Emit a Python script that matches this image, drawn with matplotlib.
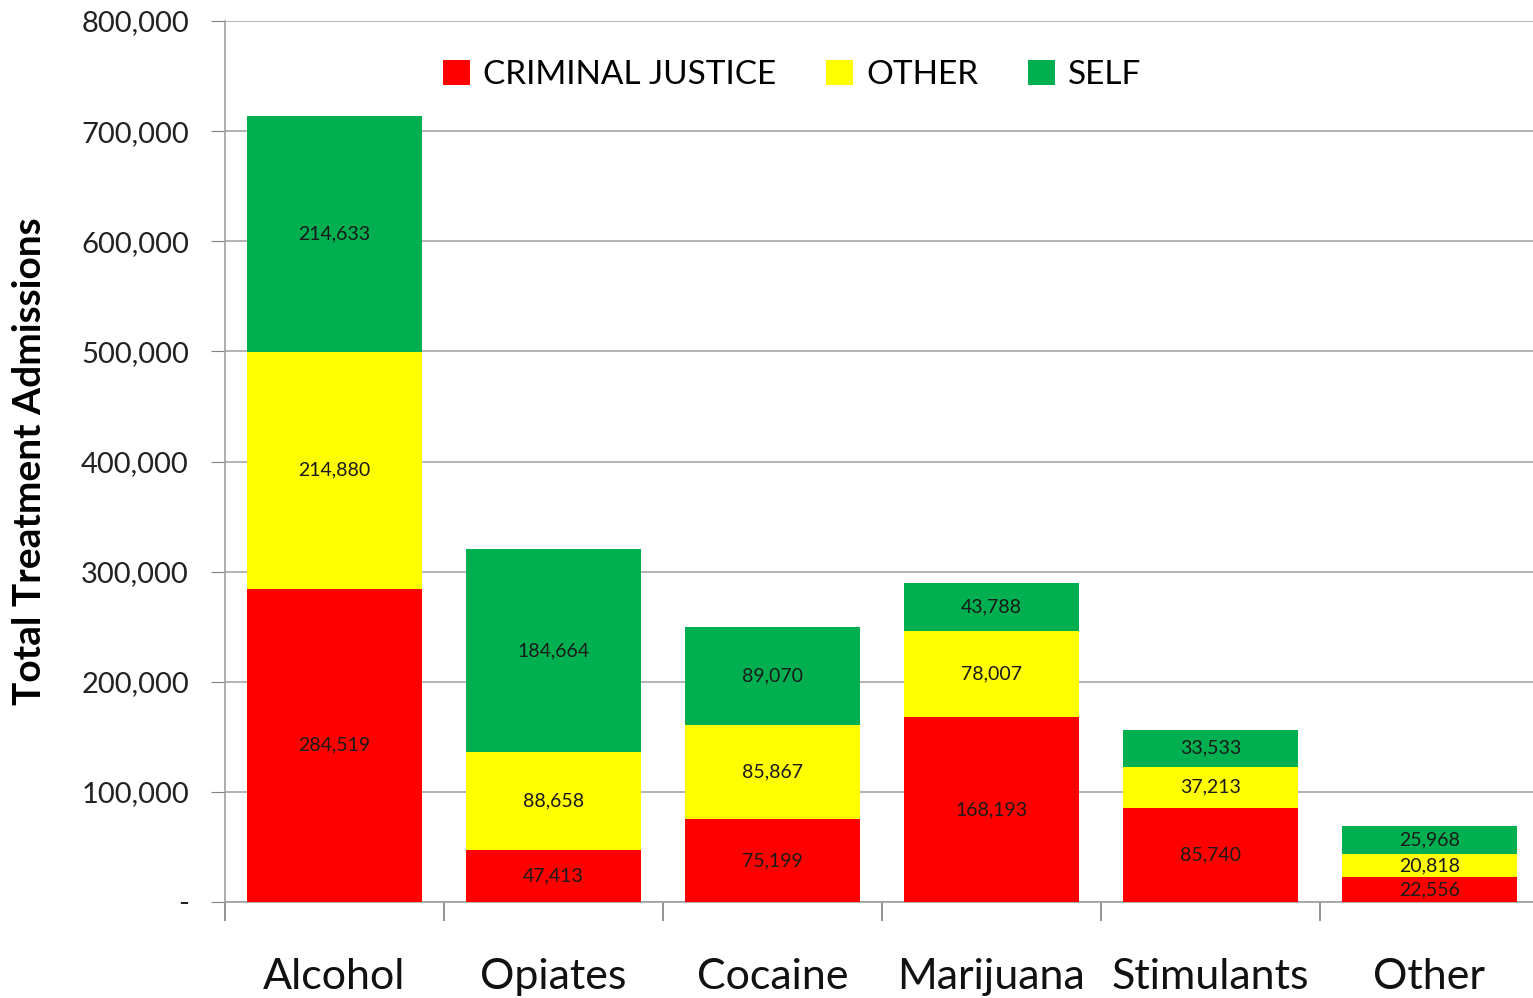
import matplotlib
matplotlib.use("Agg")
import matplotlib.pyplot as plt
import numpy as np
from matplotlib.ticker import FuncFormatter, FixedLocator

categories = ["Alcohol", "Opiates", "Cocaine", "Marijuana", "Stimulants", "Other"]
series_names = ["CRIMINAL JUSTICE", "OTHER", "SELF"]
criminal_justice = [284519, 47413, 75199, 168193, 85740, 22556]
other = [214880, 88658, 85867, 78007, 37213, 20818]
self_ref = [214633, 184664, 89070, 43788, 33533, 25968]
colors = ["#FF0000", "#FFFF00", "#00B050"]
y_ticks = [0, 100000, 200000, 300000, 400000, 500000, 600000, 700000, 800000]

plt.rcParams['font.family'] = ['Lato', 'DejaVu Sans']

fig = plt.figure(figsize=(15.33, 9.98), dpi=100)
ax = fig.add_axes([225/1533, 1-902/998, 1314/1533, 881/998])

x = np.arange(len(categories))
bottom = np.zeros(len(categories))
handles = []
for name, vals, c in zip(series_names, [criminal_justice, other, self_ref], colors):
    vals = np.array(vals, dtype=float)
    b = ax.bar(x, vals, width=0.80, bottom=bottom, color=c, label=name, zorder=3)
    handles.append(b)
    for xi, v, bt in zip(x, vals, bottom):
        ax.text(xi, bt + v/2, f"{int(v):,}", ha='center', va='center',
                fontsize=14, color='#1a1a1a', zorder=4)
    bottom += vals

ax.set_xlim(-0.5, 5.5)
ax.set_ylim(0, 800000)
ax.set_yticks(y_ticks)
ax.yaxis.set_major_formatter(FuncFormatter(lambda v, p: "-" if v == 0 else f"{int(v):,}"))
ax.tick_params(axis='y', labelsize=21, length=10, color='#808080', pad=16, labelcolor='#222222')
ax.grid(axis='y', color='#A6A6A6', linewidth=1.2, zorder=0)

ax.set_xticks(x)
ax.set_xticklabels(categories)
ax.tick_params(axis='x', which='major', length=0, labelsize=31, pad=40, labelcolor='#111111')
ax.xaxis.set_minor_locator(FixedLocator(np.arange(-0.5, 6.0, 1.0)))
ax.tick_params(axis='x', which='minor', length=14, color='#808080', width=1.2)

for s in ['top', 'right']:
    ax.spines[s].set_visible(False)
for s in ['left', 'bottom']:
    ax.spines[s].set_color('#A0A0A0')
    ax.spines[s].set_linewidth(1.2)

ax.set_ylabel("Total Treatment Admissions", fontsize=28, fontweight='bold')
ax.yaxis.set_label_coords(-0.1355, 0.5)

leg = ax.legend(handles=handles, loc='upper left', bbox_to_anchor=(0.143, 0.99), ncol=3,
                frameon=False, fontsize=24, handlelength=0.8, handleheight=0.8,
                handletextpad=0.4, columnspacing=1.5)

fig.savefig("out.png", dpi=100)
